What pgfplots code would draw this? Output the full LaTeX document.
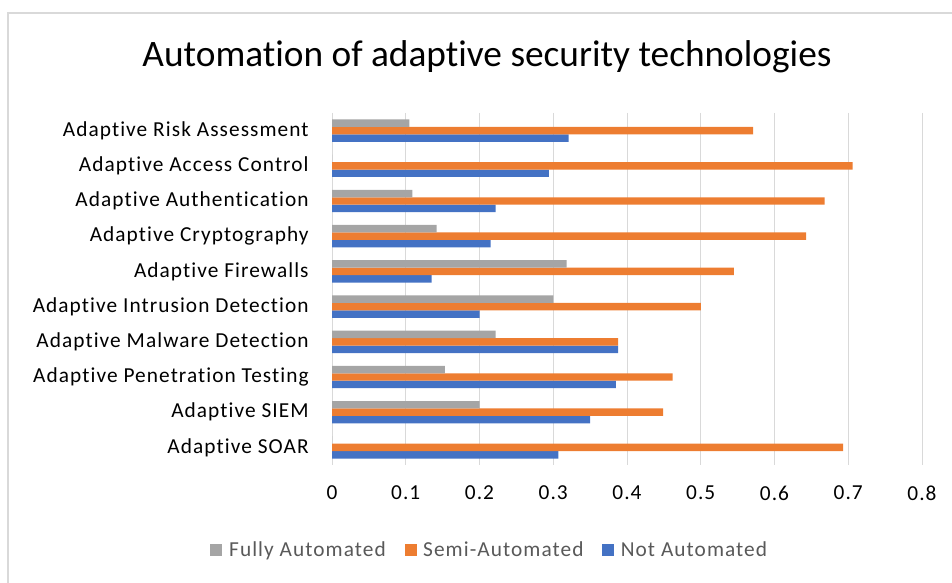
\documentclass[border=0pt]{standalone}
\usepackage{pgfplots}
\pgfplotsset{compat=1.18}
\usepackage{fontspec}
\setmainfont{Carlito}[RawFeature={-liga;-clig}]
\newfontfamily\widefont{Carlito}[LetterSpace=5, RawFeature={-liga;-clig}]
\definecolor{fullgray}{RGB}{165,165,165}
\definecolor{semiorange}{RGB}{237,125,49}
\definecolor{notblue}{RGB}{68,114,196}
\definecolor{gridgray}{RGB}{217,217,217}
\definecolor{txtgray}{RGB}{89,89,89}

\begin{document}
\begin{tikzpicture}
  % 1px = 0.75pt, picture 952x582 px
  \path[use as bounding box] (0pt,0pt) rectangle (714pt,436.5pt);
  \draw[gridgray,line width=1.5pt] (6pt,-10pt) -- (6pt,426.75pt) -- (730pt,426.75pt);
  \node[font=\fontsize{28}{32}\selectfont] at (365.25pt,393.75pt) {Automation of adaptive security technologies};

  \begin{axis}[
      at={(249pt,87.75pt)}, anchor=south west,
      scale only axis,
      width=442.5pt, height=264pt,
      xbar=0pt,
      bar width=5.6pt,
      xmin=0, xmax=0.8,
      ymin=-0.5, ymax=9.5,
      y dir=reverse,
      xtick={0,0.1,...,0.8},
      ytick={0,...,9},
      yticklabels={Adaptive Risk Assessment, Adaptive Access Control, Adaptive Authentication, Adaptive Cryptography, Adaptive Firewalls, Adaptive Intrusion Detection, Adaptive Malware Detection, Adaptive Penetration Testing, Adaptive SIEM, Adaptive SOAR},
      /pgf/number format/assume math mode=true,
      xticklabel style={font=\widefont\fontsize{16}{18}\selectfont, text=black, yshift=-12pt},
      yticklabel style={font=\widefont\fontsize{16}{18}\selectfont, text=black, xshift=-14pt},
      major tick length=0pt,
      xmajorgrids,
      grid style={gridgray, line width=0.75pt},
      axis line style={draw=none},
      legend style={at={(0.268,-0.241)}, anchor=center, legend columns=-1, draw=none,
        font=\widefont\fontsize{16}{18}\selectfont, text=txtgray,
        /tikz/every odd column/.append style={column sep=3pt},
        /tikz/every even column/.append style={column sep=12pt}},
      legend image code/.code={\fill[#1] (0pt,-4.5pt) rectangle (9pt,4.5pt);},
      reverse legend,
    ]
    % Not Automated
    \addplot[fill=notblue, draw=none] coordinates {
      (0.321,0) (0.294,1) (0.222,2) (0.215,3) (0.135,4)
      (0.200,5) (0.388,6) (0.385,7) (0.350,8) (0.307,9)};
    % Semi-Automated
    \addplot[fill=semiorange, draw=none] coordinates {
      (0.571,0) (0.706,1) (0.668,2) (0.643,3) (0.545,4)
      (0.500,5) (0.388,6) (0.462,7) (0.449,8) (0.693,9)};
    % Fully Automated
    \addplot[fill=fullgray, draw=none] coordinates {
      (0.105,0) (0,1) (0.109,2) (0.142,3) (0.318,4)
      (0.300,5) (0.222,6) (0.153,7) (0.200,8) (0,9)};
    \legend{Not Automated, Semi-Automated, Fully Automated}
  \end{axis}
\end{tikzpicture}
\end{document}
